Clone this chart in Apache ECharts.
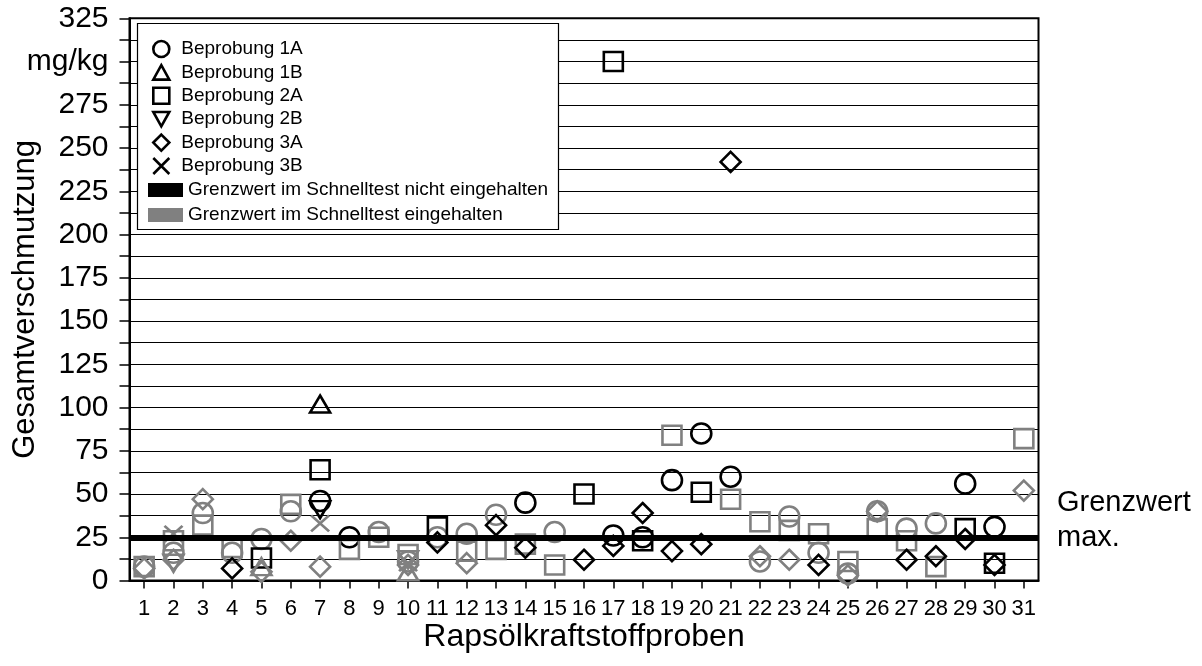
<!DOCTYPE html>
<html lang="de">
<head>
    <meta charset="UTF-8">
    <title>Gesamtverschmutzung</title>
    <script type="text/javascript" src="https://cdn.jsdelivr.net/npm/echarts@6/dist/echarts.min.js"></script>
    <style>
        html, body { margin: 0; padding: 0; background: #fff; }
    </style>
</head>
<body>
<div id="main" style="width:1202px;height:666px;"></div>
<script type="text/javascript">
    // Proben 1..31
    var samples = [];
    for (var i = 1; i <= 31; i++) samples.push(String(i));

    // Messwerte mg/kg (null = keine Probe)
    var v1A = [8, 16, 39, 16, 24, 40, 46, 25, 28, 11, 25, 27, 38, 45, 28, null, 26, 25, 58, 85, 60, 11, 37, 16, 4, 40, 30, 33, 56, 31, null];
    var v1B = [null, null, null, null, 8, null, 102, null, null, 5, null, null, null, null, null, null, null, null, null, null, null, null, null, null, null, null, null, null, null, null, null];
    var v2A = [8, 23, 32, 19, 13, 44, 64, 18, 25, 15, 31, 17, 18, 21, 9, 50, 300, 23, 84, 51, 47, 34, 29, 27, 11, 30, 23, 8, 30, 10, 82];
    var v2B = [null, 10, null, null, null, null, 41, null, null, 12, null, null, null, null, null, null, null, null, null, null, null, null, null, null, null, null, null, null, null, null, null];
    var v3A = [7, 12, 47, 7, 5, 23, 8, null, null, 9, 22, 10, 32, 19, null, 12, 20, 39, 17, 21, 242, 14, 12, 9, 3, 40, 12, 14, 24, 9, 52];
    var v3B = [null, 27, null, null, null, null, 33, null, null, 10, null, null, null, null, null, null, null, null, null, null, null, null, null, null, null, null, null, null, null, null, null];

    // Schnelltest: 1 = Grenzwert eingehalten (grau), 0 = nicht eingehalten (schwarz)
    var ok1A = [1, 1, 1, 1, 1, 1, 0, 0, 1, 1, 1, 1, 1, 0, 1, 1, 0, 0, 0, 0, 0, 1, 1, 1, 1, 1, 1, 1, 0, 0, 1];
    var ok1B = [1, 1, 1, 1, 1, 1, 0, 1, 1, 1, 1, 1, 1, 1, 1, 1, 1, 1, 1, 1, 1, 1, 1, 1, 1, 1, 1, 1, 1, 1, 1];
    var ok2A = [1, 1, 1, 1, 0, 1, 0, 1, 1, 1, 0, 1, 1, 1, 1, 0, 0, 0, 1, 0, 1, 1, 1, 1, 1, 1, 1, 1, 0, 0, 1];
    var ok2B = [1, 1, 1, 1, 1, 1, 0, 1, 1, 1, 1, 1, 1, 1, 1, 1, 1, 1, 1, 1, 1, 1, 1, 1, 1, 1, 1, 1, 1, 1, 1];
    var ok3A = [1, 1, 1, 0, 1, 1, 1, 1, 1, 1, 0, 1, 0, 0, 1, 0, 0, 0, 0, 0, 0, 1, 1, 0, 1, 1, 0, 0, 0, 0, 1];
    var ok3B = [1, 1, 1, 1, 1, 1, 1, 1, 1, 1, 1, 1, 1, 1, 1, 1, 1, 1, 1, 1, 1, 1, 1, 1, 1, 1, 1, 1, 1, 1, 1];

    var limit = 25;
    var yTicks = [0, 25, 50, 75, 100, 125, 150, 175, 200, 225, 250, 275, 300, 325];

    var BLACK = '#000000', GREY = '#808080';
    var FONT = '"Liberation Sans", Arial, sans-serif';
    var TRI_UP = 'path://M5,0L10,9L0,9Z';
    var TRI_DOWN = 'path://M0,0L10,0L5,9Z';
    var CROSS = 'path://M0,0L10,10M10,0L0,10';

    function points(values, ok) {
        var out = [];
        values.forEach(function (v, i) {
            if (v === null) return;
            out.push({
                value: [i, v],
                itemStyle: { borderColor: ok[i] ? GREY : BLACK }
            });
        });
        return out;
    }

    function scatter(name, symbol, size, values, ok) {
        return {
            name: name,
            type: 'scatter',
            symbol: symbol,
            symbolSize: size,
            itemStyle: { color: 'rgba(0,0,0,0)', borderColor: BLACK, borderWidth: 2.6, opacity: 1 },
            emphasis: { disabled: true },
            data: points(values, ok)
        };
    }

    var iconStyle = { color: 'rgba(0,0,0,0)', borderColor: BLACK, borderWidth: 2.6, opacity: 1 };

    var series = [
        scatter('Beprobung 1A', 'circle', 20, v1A, ok1A),
        scatter('Beprobung 1B', TRI_UP, [20, 17], v1B, ok1B),
        scatter('Beprobung 2A', 'rect', 19, v2A, ok2A),
        scatter('Beprobung 2B', TRI_DOWN, [20, 17], v2B, ok2B),
        scatter('Beprobung 3A', 'diamond', 20, v3A, ok3A),
        scatter('Beprobung 3B', CROSS, [18, 16], v3B, ok3B),
        { name: 'Grenzwert im Schnelltest nicht eingehalten', type: 'scatter', data: [], itemStyle: { color: BLACK, opacity: 1 } },
        { name: 'Grenzwert im Schnelltest eingehalten', type: 'scatter', data: [], itemStyle: { color: GREY, opacity: 1 } }
    ];

    // dicke Linie beim Grenzwert
    series[0].markLine = {
        silent: true,
        symbol: 'none',
        label: { show: false },
        lineStyle: { color: BLACK, width: 6, type: 'solid', opacity: 1 },
        data: [{ yAxis: limit }]
    };

    const myChart = echarts.init(document.getElementById('main'), null, { renderer: 'canvas' });
    myChart.setOption({
        animation: false,
        textStyle: { fontFamily: FONT, color: BLACK },
        grid: {
            left: 129.5, right: 163.5, top: 18.3, bottom: 85.5,
            containLabel: false, outerBoundsMode: 'none',
            show: true, borderColor: BLACK, borderWidth: 2, backgroundColor: 'transparent'
        },
        graphic: [
            {
                type: 'rect', z: 3,
                shape: { x: 137.5, y: 23.5, width: 421, height: 206 },
                style: { fill: '#fff', stroke: BLACK, lineWidth: 1.2 }
            },
            {
                type: 'text', left: 1057, top: 485, z: 5,
                style: { text: 'Grenzwert\nmax.', font: '29px ' + FONT, fill: BLACK, lineHeight: 35 }
            }
        ],
        legend: [
            {
                data: ['Beprobung 1A', 'Beprobung 1B', 'Beprobung 2A', 'Beprobung 2B', 'Beprobung 3A', 'Beprobung 3B'].map(function (n, k) {
                    return { name: n, icon: ['circle', TRI_UP, 'rect', TRI_DOWN, 'diamond', CROSS][k], itemStyle: iconStyle };
                }),
                orient: 'vertical', left: 147, top: 34, z: 5,
                itemWidth: 16, itemHeight: 16, itemGap: 3.4,
                formatter: function (n) { return '{gap|}' + n; },
                textStyle: { fontSize: 19, lineHeight: 20, color: BLACK, fontFamily: FONT, rich: { gap: { width: 7 } } }
            },
            {
                data: [
                    { name: 'Grenzwert im Schnelltest nicht eingehalten', icon: 'rect', itemStyle: { color: BLACK, borderWidth: 0, opacity: 1 } },
                    { name: 'Grenzwert im Schnelltest eingehalten', icon: 'rect', itemStyle: { color: GREY, borderWidth: 0, opacity: 1 } }
                ],
                orient: 'vertical', left: 143, top: 175, z: 5,
                itemWidth: 35, itemHeight: 14, itemGap: 5,
                textStyle: { fontSize: 19, lineHeight: 20, color: BLACK, fontFamily: FONT }
            }
        ],
        xAxis: {
            type: 'category',
            data: samples,
            boundaryGap: true,
            name: 'Rapsölkraftstoffproben',
            nameLocation: 'middle',
            nameGap: 41,
            nameMoveOverlap: false,
            nameTextStyle: { fontSize: 32, color: BLACK, fontFamily: FONT },
            axisLine: { lineStyle: { color: BLACK, width: 2 } },
            axisTick: { show: true, alignWithLabel: true, interval: 0, length: 8, lineStyle: { color: BLACK, width: 1.5 } },
            axisLabel: { interval: 0, fontSize: 22, margin: 17, color: BLACK, fontFamily: FONT },
            splitLine: { show: false }
        },
        yAxis: {
            type: 'value',
            min: 0, max: 325, interval: 12.5,
            name: 'Gesamtverschmutzung',
            nameLocation: 'middle',
            nameRotate: 90,
            nameGap: 89,
            nameMoveOverlap: false,
            nameTextStyle: { fontSize: 31, color: BLACK, fontFamily: FONT },
            axisLine: { show: true, lineStyle: { color: BLACK, width: 2 } },
            axisTick: { show: true, length: 10, lineStyle: { color: BLACK, width: 1.5 } },
            axisLabel: {
                fontSize: 30, margin: 21, color: BLACK, fontFamily: FONT,
                formatter: function (v) {
                    if (yTicks.indexOf(v) < 0) return '';
                    return v === 300 ? 'mg/kg' : String(v);
                }
            },
            splitLine: { show: true, lineStyle: { color: BLACK, width: 1.2 } }
        },
        series: series
    });
</script>
</body>
</html>
